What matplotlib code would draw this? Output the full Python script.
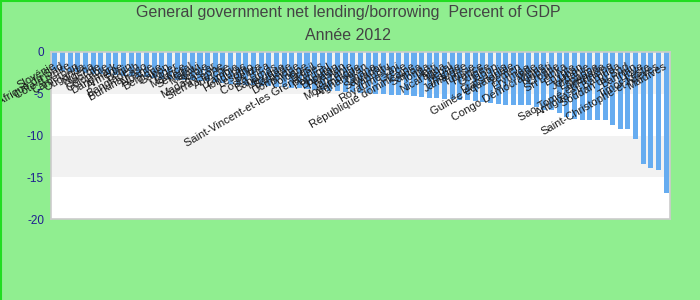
import matplotlib
matplotlib.use("Agg")
import matplotlib.pyplot as plt
from matplotlib.lines import Line2D

countries = [
    "Slovénie", "Afrique du Sud", "Côte d'Ivoire", "Cameroun", "Ouganda", "Nigéria",
    "Géorgie", "Colombie", "Danemark", "Arménie", "Bénin", "Bangladesh",
    "Burkina Faso", "Albanie", "Belgique", "Gabon", "Niger", "Maurice",
    "Sénégal", "Malawi", "Serbie", "Madagascar", "Sierra Leone", "Autriche",
    "Zambie", "Honduras", "Lesotho", "Belize", "Costa Rica", "Bahamas",
    "Mexique", "Barbade", "Dominique", "Pologne", "Brésil",
    "Saint-Vincent-et-les Grenadines", "Portugal", "Bhoutan", "Pakistan",
    "Tanzanie", "Mozambique", "Afghanistan", "Ghana", "Salvador", "Vanuatu",
    "Royaume-Uni", "Grèce", "République dominicaine", "Samoa", "Tonga", "Haïti",
    "Nicaragua", "Népal", "Irlande", "Jamaïque", "Tunisie", "France", "Guinée",
    "Japon", "États-Unis", "Guinée équatoriale", "Yémen", "Érythrée", "Inde",
    "Congo Démocratique", "Kiribati", "Croatie", "Sri Lanka", "Égypte", "Liban",
    "Jordanie", "Espagne", "Grenade", "Sao Tomé-et-Principe",
    "Antigua-et-Barbuda", "Soudan du Sud", "Bahreïn", "Libye", "Timor-Leste",
    "Saint-Christophe-et-Niévès", "Maldives",
]

values = [
    -2.2, -2.3, -2.4, -2.4, -2.5, -2.6, -2.6, -2.7, -2.8, -2.9, -2.9, -3.0,
    -3.0, -3.1, -3.2, -3.2, -3.3, -3.3, -3.4, -3.5, -3.5, -3.6, -3.7, -3.8,
    -3.9, -4.0, -4.0, -4.1, -4.1, -4.2, -4.2, -4.3, -4.3, -4.4, -4.5, -4.6,
    -4.7, -4.7, -4.8, -4.8, -4.9, -4.9, -5.0, -5.0, -5.1, -5.1, -5.2, -5.3,
    -5.4, -5.5, -5.5, -5.6, -5.6, -5.7, -5.8, -5.9, -6.0, -6.1, -6.2, -6.3,
    -6.3, -6.4, -6.4, -6.6, -6.9, -7.0, -7.3, -7.8, -8.0, -8.1, -8.2, -8.2,
    -8.2, -8.8, -9.2, -9.2, -10.4, -13.4, -13.9, -14.1, -16.9,
]

yticks = [0, -5, -10, -15, -20]
title_line1 = "General government net lending/borrowing  Percent of GDP"
title_line2 = "Année 2012"

plt.rcParams['font.family'] = ['Liberation Sans', 'DejaVu Sans']

fig = plt.figure(figsize=(7, 3), dpi=100)
fig.patch.set_facecolor('#90ee90')
ax = fig.add_axes([51/700, 1 - 219/300, (670-51)/700, (219-52)/300])
ax.set_facecolor('white')

# alternating bands
for lo, hi, c in [(-5, 0, '#f2f2f2'), (-10, -5, 'white'), (-15, -10, '#f2f2f2'), (-20, -15, 'white')]:
    ax.axhspan(lo, hi, color=c, zorder=0, lw=0)

x = list(range(len(values)))
ax.bar(x, values, width=0.66, color='#66acf0', zorder=2)

ax.set_xlim(-0.5, len(values) - 0.5)
ax.set_ylim(-20, 0)
ax.set_yticks(yticks)
ax.set_yticklabels([str(t) for t in yticks], color='#1f1f8f', fontsize=8.5)
ax.tick_params(axis='y', length=0, pad=5)
ax.set_xticks([])
for s in ax.spines.values():
    s.set_color('#cccccc')
    s.set_linewidth(1.2)

for i, (name, v) in enumerate(zip(countries, values)):
    ax.text(i, -1.6, name, rotation=30, rotation_mode='anchor', ha='right', va='center',
            fontsize=8, color='#1a1a1a', zorder=3, clip_on=False)

fig.text(0.497, 1 - 13/300, title_line1, ha='center', va='center', fontsize=11.5, color='#444444')
fig.text(0.497, 1 - 36/300, title_line2, ha='center', va='center', fontsize=11.5, color='#444444')

# figure border lines (left and top)
fig.add_artist(Line2D([0.001, 0.001], [0, 1], transform=fig.transFigure, color='#22dd22', lw=1.5))
fig.add_artist(Line2D([0, 1], [0.998, 0.998], transform=fig.transFigure, color='#22dd22', lw=1.5))

fig.savefig('out.png', dpi=100, facecolor=fig.get_facecolor())
